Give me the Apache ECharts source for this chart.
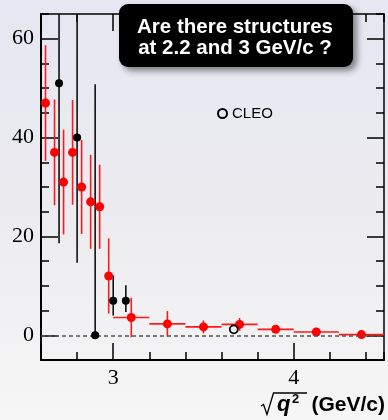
<!DOCTYPE html>
<html>
<head>
<meta charset="utf-8">
<script src="https://cdn.jsdelivr.net/npm/echarts@6/dist/echarts.min.js"></script>
<style>
html,body{margin:0;padding:0;}
#main{width:388px;height:420px;}
</style>
</head>
<body>
<div id="main"></div>
<script>
// ---- data ----
var redX   = [2.625, 2.675, 2.725, 2.775, 2.825, 2.875, 2.925, 2.975, 3.1, 3.3, 3.5, 3.7, 3.9, 4.125, 4.375];
var redY   = [47, 37, 31, 37, 30, 27, 26, 12, 3.6, 2.3, 1.7, 2.2, 1.2, 0.67, 0.14];
var redErr = [11.7, 10.7, 10.6, 10.6, 9.5, 9.5, 8.5, 7.6, 4.0, 2.6, 1.3, 1.3, 0.6, 0.4, 0.3];
var redXLo = [null, null, null, null, null, null, null, null, 3.0, 3.2, 3.4, 3.6, 3.8, 4.0, 4.25];
var redXHi = [null, null, null, null, null, null, null, null, 3.2, 3.4, 3.6, 3.8, 4.0, 4.25, 4.5];

var blackX  = [2.7, 2.8, 2.9, 3.0, 3.07];
var blackY  = [51, 40, 0, 7, 7];
var blackLo = [18.6, 14.7, 0, 4.0, 4.7];
var blackHi = [83.4, 65.2, 50.8, 12.1, 10.1];

var cleoX = [3.668];
var cleoY = [1.2];

var yMajorTicks = [0, 20, 40, 60];
var xMajorTicks = [3, 4];

// ---- build ----
var redPts = redX.map(function (x, i) { return [x, redY[i]]; });
var redBars = redX.map(function (x, i) {
  return [x, redY[i], redY[i] - redErr[i], redY[i] + redErr[i],
          redXLo[i] == null ? '-' : redXLo[i], redXHi[i] == null ? '-' : redXHi[i]];
});
var blackPts = blackX.map(function (x, i) { return [x, blackY[i]]; });
var blackBars = blackX.map(function (x, i) { return [x, blackY[i], blackLo[i], blackHi[i], '-', '-']; });
var cleoPts = cleoX.map(function (x, i) { return [x, cleoY[i]]; });

function errRender(color) {
  return function (params, api) {
    var x = api.value(0), y = api.value(1), lo = api.value(2), hi = api.value(3);
    var xl = api.value(4), xh = api.value(5);
    var children = [];
    var p1 = api.coord([x, lo]), p2 = api.coord([x, hi]);
    children.push({ type: 'line', shape: { x1: p1[0], y1: p1[1], x2: p2[0], y2: p2[1] },
      style: { stroke: color, lineWidth: 1.6 } });
    if (!isNaN(xl) && !isNaN(xh)) {
      var q1 = api.coord([xl, y]), q2 = api.coord([xh, y]);
      children.push({ type: 'line', shape: { x1: q1[0], y1: q1[1], x2: q2[0], y2: q2[1] },
        style: { stroke: color, lineWidth: 1.6 } });
    }
    return { type: 'group', children: children };
  };
}

var XMIN = 2.6, XMAX = 4.5, YMIN = -5, YMAX = 65;
var serifFont = '"Liberation Serif", "Times New Roman", serif';
var sansFont = '"Liberation Sans", Arial, Helvetica, sans-serif';

function xAx(pos, major, labels) {
  var a = {
    type: 'value', position: pos, min: XMIN, max: XMAX,
    splitLine: { show: false },
    axisLine: { show: !major, onZero: false, lineStyle: { color: '#000', width: pos === 'bottom' ? 2 : 1.5 } },
    axisTick: { show: true, inside: true, length: major ? 17 : 8, lineStyle: { color: '#000', width: 1.5 } },
    axisLabel: { show: false }
  };
  if (major) {
    a.axisTick.customValues = xMajorTicks;
    if (labels) {
      a.axisLabel = { show: true, customValues: xMajorTicks, fontFamily: serifFont, fontSize: 22, color: '#000', margin: 7 };
    }
  } else {
    a.interval = 0.2;
  }
  return a;
}
function yAx(pos, major, labels) {
  var a = {
    type: 'value', position: pos, min: YMIN, max: YMAX,
    splitLine: { show: false },
    axisLine: { show: !major, onZero: false, lineStyle: { color: '#000', width: pos === 'left' ? 2 : 1.5 } },
    axisTick: { show: true, inside: true, length: major ? 17 : 8, lineStyle: { color: '#000', width: 1.5 } },
    axisLabel: { show: false }
  };
  if (major) {
    a.axisTick.customValues = yMajorTicks;
    if (labels) {
      a.axisLabel = { show: true, customValues: yMajorTicks, fontFamily: serifFont, fontSize: 22, color: '#000', margin: 7 };
    }
  } else {
    a.interval = 5;
  }
  return a;
}

var chart = echarts.init(document.getElementById('main'), null, { renderer: 'canvas' });
chart.setOption({
  animation: false,
  backgroundColor: {
    type: 'linear', x: 0, y: 0, x2: 0, y2: 1,
    colorStops: [{ offset: 0, color: '#e6e6f2' }, { offset: 0.5, color: '#ececf0' }, { offset: 1, color: '#f6f6f6' }]
  },
  grid: { left: 41, right: 4, top: 14, bottom: 60, containLabel: false },
  xAxis: [xAx('bottom', false), xAx('bottom', true, true), xAx('top', false), xAx('top', true, false)],
  yAxis: [yAx('left', false), yAx('left', true, true), yAx('right', false), yAx('right', true, false)],
  legend: {
    data: ['CLEO'], left: 212, top: 101, itemWidth: 9, itemHeight: 9, itemGap: 5,
    textStyle: { fontFamily: sansFont, fontSize: 15, color: '#000' },
    selectedMode: false
  },
  series: [
    {
      name: 'redErr', type: 'custom', xAxisIndex: 0, yAxisIndex: 0, clip: true, silent: true,
      renderItem: errRender('#ff1a1a'), data: redBars, z: 2,
      markLine: {
        silent: true, symbol: 'none', label: { show: false },
        lineStyle: { color: '#555', type: [4, 3], width: 1.5 },
        data: [{ yAxis: 0 }]
      }
    },
    {
      name: 'blackErr', type: 'custom', xAxisIndex: 0, yAxisIndex: 0, clip: true, silent: true,
      renderItem: errRender('#111'), data: blackBars, z: 3
    },
    {
      name: 'red', type: 'scatter', symbol: 'circle', symbolSize: 9, data: redPts, z: 4,
      itemStyle: { color: '#ff0000', opacity: 1 }
    },
    {
      name: 'black', type: 'scatter', symbol: 'circle', symbolSize: 8, data: blackPts, z: 5,
      itemStyle: { color: '#000', opacity: 1 }
    },
    {
      name: 'CLEO', type: 'scatter', symbol: 'circle', symbolSize: 8, data: cleoPts, z: 6,
      itemStyle: { color: 'rgba(255,255,255,0)', borderColor: '#000', borderWidth: 1.8, opacity: 1 }
    }
  ],
  graphic: [
    {
      type: 'rect', x: 119, y: 4, z: 100, shape: { width: 234, height: 63, r: 9 },
      style: { fill: '#000', shadowBlur: 6, shadowOffsetX: 4, shadowOffsetY: 4, shadowColor: 'rgba(0,0,0,0.45)' }
    },
    {
      type: 'text', x: 235, y: 38, z: 101, style: {
        text: 'Are there structures\nat 2.2 and 3 GeV/c ?', fill: '#fff', align: 'center', verticalAlign: 'middle',
        font: 'bold 20.5px "Liberation Sans", Arial, sans-serif', lineHeight: 21
      }
    },
    {
      type: 'polyline', shape: { points: [[261, 406], [263.5, 404.5], [267, 414.5], [273.5, 393], [307, 393]] },
      style: { stroke: '#000', lineWidth: 1.3, fill: null }
    },
    {
      type: 'text', x: 277, y: 405, style: { text: 'q', fill: '#000', verticalAlign: 'middle',
        font: 'italic bold 22px "Liberation Sans", Arial, sans-serif' }
    },
    {
      type: 'text', x: 292, y: 399, style: { text: '2', fill: '#000', verticalAlign: 'middle',
        font: 'bold 13px "Liberation Sans", Arial, sans-serif' }
    },
    {
      type: 'text', x: 311.5, y: 405, style: { text: '(GeV/c)', fill: '#000', verticalAlign: 'middle',
        font: 'bold 21px "Liberation Sans", Arial, sans-serif' }
    }
  ]
});
</script>
</body>
</html>
